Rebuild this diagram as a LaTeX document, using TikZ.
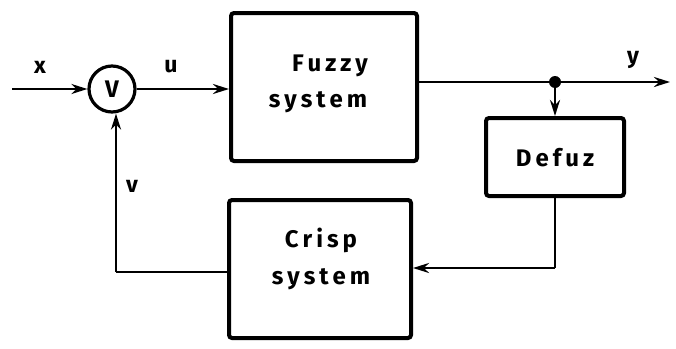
\documentclass[tikz,border=0pt]{standalone}
\usepackage{fontspec}
\setmainfont{Fira Sans}
\usetikzlibrary{arrows.meta,positioning}
\begin{document}
\begin{tikzpicture}[x=1pt,y=-1pt,
  blockbox/.style={draw,line width=4pt,rounded corners=3pt,inner sep=0pt},
  conn/.style={line width=2.6pt},
  arr/.style={conn,-{Stealth[length=16pt,width=10pt]}},
  lbl/.style={font=\fontsize{23}{25}\selectfont\bfseries},
  btxt/.style={font=\fontsize{24}{30}\selectfont\bfseries,align=center}]
\useasboundingbox (0,0) rectangle (676,348);
\node[draw,circle,line width=3.2pt,minimum size=46pt,inner sep=0pt,font=\fontsize{24}{26}\selectfont\bfseries] (sum) at (112,89) {V};
\node[blockbox,minimum width=186pt,minimum height=148pt] (fuzzy) at (324,87) {};
\node[btxt] at (330,66) {F\,u\,z\,z\,y};
\node[btxt] at (318,102) {s\,y\,s\,t\,e\,m};
\node[blockbox,minimum width=138pt,minimum height=78pt] (defuz) at (555,157) {};
\node[btxt] at (555,158) {D\,e\,f\,u\,z};
\node[blockbox,minimum width=182pt,minimum height=138pt] (crisp) at (320,269) {};
\node[btxt] at (321,240) {C\,r\,i\,s\,p};
\node[btxt] at (321,279) {s\,y\,s\,t\,e\,m};
\coordinate (in) at (12,89);
\coordinate (out) at (670,82);
\coordinate (dot) at (555,82);
\coordinate (fbr) at (555,268);
\coordinate (fbl) at (116,272);
\fill (dot) circle (6pt);
\draw[arr] (in) -- (sum.west);
\draw[arr] (sum.east) -- (sum.east -| fuzzy.west);
\draw[arr] (fuzzy.east |- out) -- (out);
\draw[arr] (dot) -- (defuz.north);
\draw[conn] (defuz.south) -- (fbr);
\draw[arr] (fbr) -- (fbr -| crisp.east);
\draw[conn] (crisp.west |- fbl) -- (fbl);
\draw[arr] (fbl) -- (sum.south -| fbl);
\node[lbl] at (40,67) {x};
\node[lbl] at (171,67) {u};
\node[lbl] at (633,60) {y};
\node[lbl] at (132,186) {v};
\end{tikzpicture}
\end{document}
